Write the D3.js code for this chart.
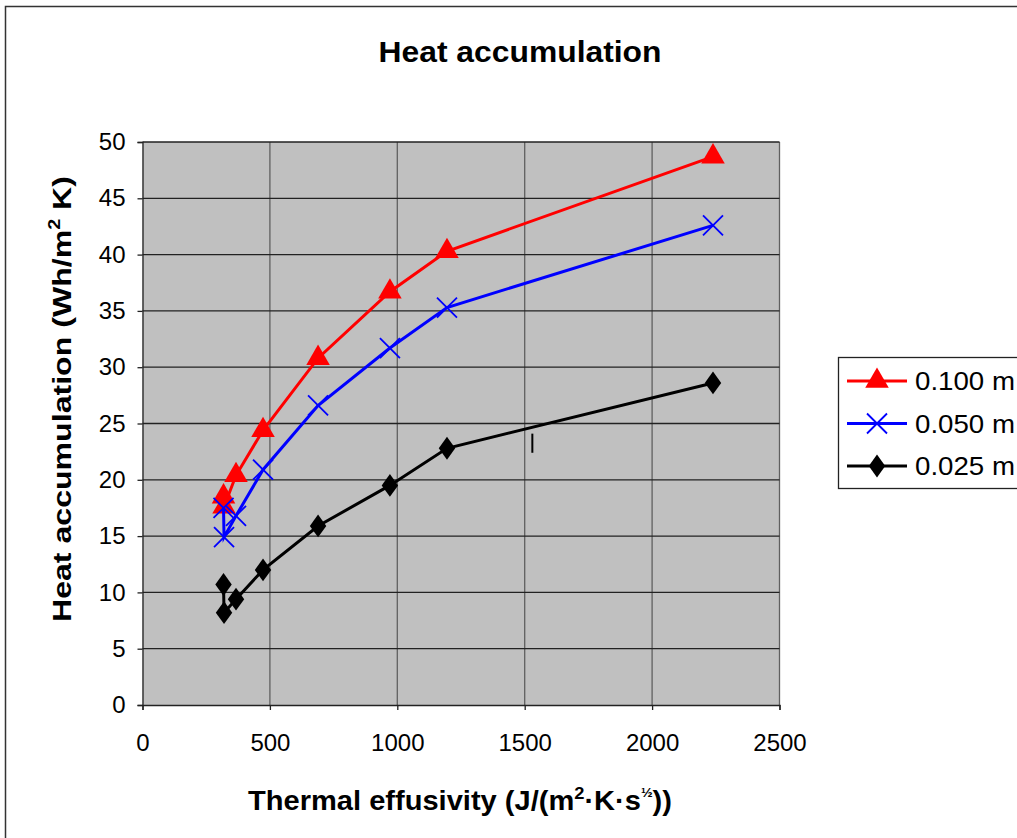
<!DOCTYPE html>
<html><head><meta charset="utf-8">
<script src="https://cdn.jsdelivr.net/npm/d3@7"></script>
<style>body{margin:0;background:#fff;font-family:"Liberation Sans",Arial,sans-serif}</style>
</head><body><svg id="c" width="1017" height="838"></svg>
<script>
const xTicks = [0, 500, 1000, 1500, 2000, 2500];
const yTicks = [0, 5, 10, 15, 20, 25, 30, 35, 40, 45, 50];
const seriesNames = ["0.100 m", "0.050 m", "0.025 m"];
const effusivity = [2239, 1195, 971, 689, 473, 367, 320, 318];
const s100 = [48.7, 40.3, 36.7, 30.8, 24.4, 20.4, 17.6, 18.5];
const s050 = [42.6, 35.3, 31.7, 26.6, 20.9, 16.8, 14.9, 17.5];
const s025 = [28.6, 22.8, 19.5, 15.9, 12.0, 9.4, 8.2, 10.7];
const colors = ["#ff0000", "#0000ff", "#000000"];
const markers = ["triangle", "cross", "diamond"];

const svg = d3.select("#c");
svg.append("rect").attr("x",5.5).attr("y",6.5).attr("width",1100).attr("height",900)
  .attr("fill","#fff").attr("stroke","#333").attr("stroke-width",1.5);

const x = d3.scaleLinear().domain([0,2500]).range([142.5,779.5]);
const y = d3.scaleLinear().domain([0,50]).range([705,142]);

svg.append("rect").attr("x",x(0)).attr("y",y(50)).attr("width",x(2500)-x(0)).attr("height",y(0)-y(50)).attr("fill","#c0c0c0");
svg.append("g").selectAll("line").data(xTicks.slice(1)).join("line")
  .attr("x1",d=>x(d)).attr("x2",d=>x(d)).attr("y1",y(0)).attr("y2",y(50))
  .attr("stroke","#606060").attr("stroke-width",1.3);
svg.append("g").selectAll("line").data(yTicks.slice(1)).join("line")
  .attr("x1",x(0)).attr("x2",x(2500)).attr("y1",d=>y(d)).attr("y2",d=>y(d))
  .attr("stroke","#222").attr("stroke-width",1.3);

const xa = svg.append("g").attr("transform",`translate(0,${y(0)})`)
  .call(d3.axisBottom(x).tickValues(xTicks).tickSize(5).tickPadding(24).tickFormat(d3.format("d")));
const ya = svg.append("g").attr("transform",`translate(${x(0)},0)`)
  .call(d3.axisLeft(y).tickValues(yTicks).tickSize(5).tickPadding(12).tickFormat(d3.format("d")));
[xa,ya].forEach(a=>{a.select(".domain").attr("stroke","#222").attr("stroke-width",1.3);
  a.selectAll(".tick line").attr("stroke","#222").attr("stroke-width",1.3);
  a.selectAll("text").attr("font-size",24).attr("fill","#000").attr("font-family","Liberation Sans, Arial, sans-serif");});

const data = [s100, s050, s025];
const line = d3.line().x(d=>x(d[0])).y(d=>y(d[1]));
function marker(g, type, color, cx, cy){
  if(type==="triangle"){
    g.append("path").attr("d",d3.symbol(d3.symbolTriangle,240)()).attr("transform",`translate(${cx},${cy})`).attr("fill",color);
  } else if(type==="cross"){
    const r=10;
    g.append("path").attr("d",`M${cx-r},${cy-r}L${cx+r},${cy+r}M${cx-r},${cy+r}L${cx+r},${cy-r}`).attr("stroke",color).attr("stroke-width",1.8);
  } else {
    g.append("path").attr("d",d3.symbol(d3.symbolDiamond,150)()).attr("transform",`translate(${cx},${cy}) scale(1.25,1)`).attr("fill",color);
  }
}
data.forEach((vals,i)=>{
  const pts = effusivity.map((e,j)=>[e, vals[j]]);
  const g = svg.append("g");
  g.append("path").attr("d",line(pts)).attr("fill","none").attr("stroke",colors[i]).attr("stroke-width",3);
  pts.forEach(p=>marker(g, markers[i], colors[i], x(p[0]), y(p[1])));
});
svg.append("line").attr("x1",x(1530)).attr("x2",x(1530)).attr("y1",y(24.1)).attr("y2",y(22.4)).attr("stroke","#000").attr("stroke-width",2);

svg.append("text").attr("x",520).attr("y",62).attr("text-anchor","middle").attr("font-size",30).attr("font-weight","bold")
  .attr("textLength",283).attr("lengthAdjust","spacingAndGlyphs").text("Heat accumulation");

const xt = svg.append("text").attr("x",248).attr("y",810).attr("font-size",27).attr("font-weight","bold")
  .attr("textLength",424).attr("lengthAdjust","spacingAndGlyphs");
xt.append("tspan").text("Thermal effusivity (J/(m");
xt.append("tspan").attr("dy",-11).attr("font-size",17).text("2");
xt.append("tspan").attr("dy",11).text("·K·s");
xt.append("tspan").attr("dy",-13).attr("font-size",13).text("½");
xt.append("tspan").attr("dy",13).text("))");

const yt = svg.append("text").attr("transform","translate(71,622) rotate(-90)").attr("font-size",26).attr("font-weight","bold")
  .attr("textLength",446).attr("lengthAdjust","spacingAndGlyphs");
yt.append("tspan").text("Heat accumulation (Wh/m");
yt.append("tspan").attr("dy",-11).attr("font-size",16).text("2");
yt.append("tspan").attr("dy",11).text(" K)");

svg.append("rect").attr("x",838.5).attr("y",357.5).attr("width",200).attr("height",131).attr("fill","#fff").attr("stroke","#222").attr("stroke-width",1.3);
seriesNames.forEach((n,i)=>{
  const cy = 381 + i*42.5;
  const g = svg.append("g");
  g.append("line").attr("x1",847).attr("x2",907).attr("y1",cy).attr("y2",cy).attr("stroke",colors[i]).attr("stroke-width",3);
  marker(g, markers[i], colors[i], 877, cy);
  g.append("text").attr("x",915).attr("y",cy+9).attr("font-size",25)
    .attr("textLength",100).attr("lengthAdjust","spacingAndGlyphs").text(n);
});
</script></body></html>
